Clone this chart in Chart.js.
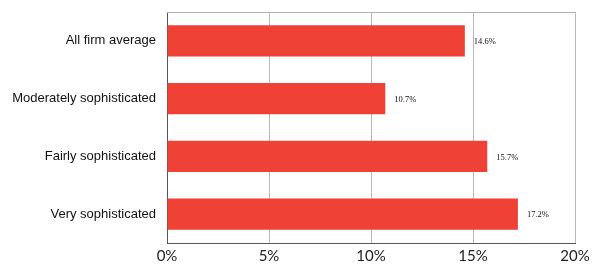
<!DOCTYPE html>
<html>
<head>
<meta charset="utf-8">
<script src="https://cdn.jsdelivr.net/npm/chart.js@4"></script>
<style>
html,body{margin:0;padding:0;background:#fff;}
#wrap{width:601px;height:275px;position:relative;}
</style>
</head>
<body>
<div id="wrap"><canvas id="c" width="601" height="275"></canvas></div>
<script>
const categories = ["All firm average", "Moderately sophisticated", "Fairly sophisticated", "Very sophisticated"];
const values = [14.6, 10.7, 15.7, 17.2];
const xTicks = [0, 5, 10, 15, 20];

const frame = {
  id: 'frame',
  afterDraw(chart) {
    const {ctx, chartArea: a} = chart;
    ctx.save();
    ctx.strokeStyle = '#b0b0b0';
    ctx.lineWidth = 1;
    ctx.beginPath();
    ctx.moveTo(a.left, a.top + 0.5);
    ctx.lineTo(a.right, a.top + 0.5);
    ctx.stroke();
    // value labels
    const meta = chart.getDatasetMeta(0);
    ctx.fillStyle = '#111';
    ctx.font = '8.5px "Liberation Serif", serif';
    ctx.textBaseline = 'middle';
    ctx.textAlign = 'left';
    meta.data.forEach((bar, i) => {
      ctx.fillText(values[i].toFixed(1) + '%', bar.x + 9, bar.y + 1);
    });
    ctx.restore();
  }
};

new Chart(document.getElementById('c'), {
  type: 'bar',
  data: {
    labels: categories,
    datasets: [{
      data: values,
      backgroundColor: '#EF4136',
      borderWidth: 0,
      barPercentage: 0.9,
      categoryPercentage: 0.6
    }]
  },
  options: {
    indexAxis: 'y',
    responsive: false,
    animation: false,
    devicePixelRatio: 1,
    layout: {padding: {left: 0, right: 26, top: 12, bottom: 0}},
    plugins: {legend: {display: false}, tooltip: {enabled: false}},
    scales: {
      x: {
        min: 0, max: 20,
        afterBuildTicks(scale) { scale.ticks = xTicks.map(v => ({value: v})); },
        ticks: {
          callback: v => v + '%',
          color: '#222',
          font: {family: 'Lato, "Open Sans", sans-serif', size: 15},
          padding: 4,
          maxRotation: 0
        },
        grid: {color: '#b8b8b8', drawTicks: false, lineWidth: 1},
        border: {color: '#555', width: 1},
        afterFit(scale) { scale.height = 32; scale.paddingRight = 0; scale.paddingLeft = 0; }
      },
      y: {
        ticks: {
          color: '#111',
          font: {family: '"Liberation Sans", Arial, sans-serif', size: 13},
          padding: 11
        },
        grid: {display: false, drawTicks: false},
        border: {color: '#555', width: 1},
        afterFit(scale) { scale.width = 167; scale.paddingTop = 0; scale.paddingBottom = 0; }
      }
    }
  },
  plugins: [frame]
});
</script>
</body>
</html>
